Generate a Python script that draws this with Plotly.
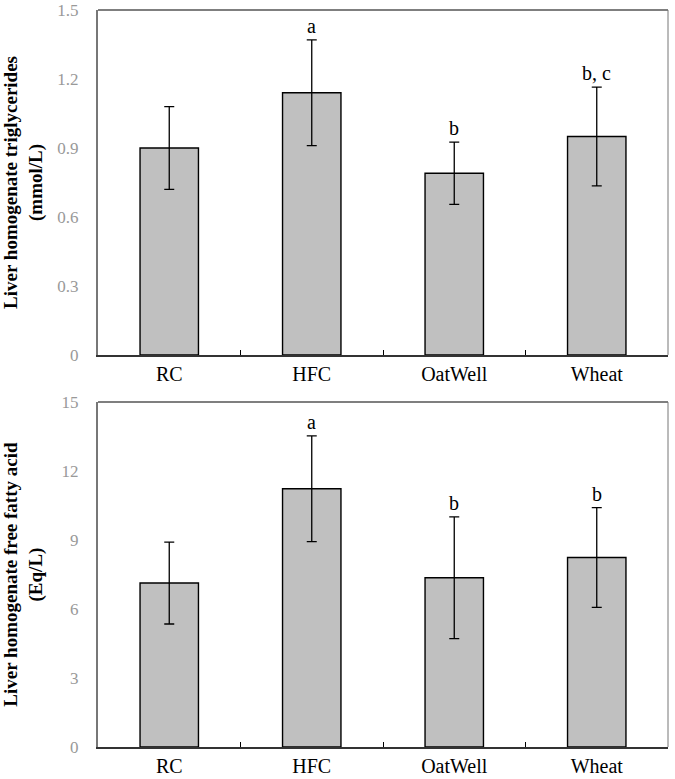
import plotly.graph_objects as go
from plotly.subplots import make_subplots

groups = ["RC", "HFC", "OatWell", "Wheat"]

tg_mean = [0.90, 1.14, 0.79, 0.95]
tg_err = [0.18, 0.23, 0.135, 0.215]
tg_letters = ["", "a", "b", "b, c"]

ffa_mean = [7.13, 11.23, 7.36, 8.24]
ffa_err = [1.78, 2.30, 2.65, 2.17]
ffa_letters = ["", "a", "b", "b"]

serif = "Liberation Serif, Times New Roman, serif"

fig = make_subplots(rows=2, cols=1, vertical_spacing=0.064)

panels = [
    (tg_mean, tg_err, tg_letters, 1),
    (ffa_mean, ffa_err, ffa_letters, 2),
]
for means, errs, letters, row in panels:
    fig.add_trace(go.Bar(
        x=groups, y=means,
        marker=dict(color="#c0c0c0", line=dict(color="black", width=1.4)),
        error_y=dict(type="data", array=errs, visible=True,
                     color="black", thickness=1.3, width=5),
        showlegend=False,
    ), row=row, col=1)
    for g, m, e, lab in zip(groups, means, errs, letters):
        if lab:
            fig.add_annotation(x=g, y=m + e, text=lab, showarrow=False,
                               yanchor="bottom", yshift=1,
                               font=dict(family=serif, size=20, color="black"),
                               row=row, col=1)

fig.update_layout(
    width=675, height=779,
    margin=dict(l=98, r=7, t=10, b=32),
    plot_bgcolor="white", paper_bgcolor="white",
    bargap=0.59,
    font=dict(family=serif, color="black"),
)

fig.update_xaxes(
    tickson="boundaries", ticks="inside", ticklen=5, tickwidth=1.2,
    tickcolor="black", showline=True, linecolor="#333", linewidth=2,
    showgrid=False, automargin=False,
    tickfont=dict(family=serif, size=20, color="black"),
)
fig.update_yaxes(
    showgrid=False, zeroline=False, ticks="", showline=True, automargin=False,
    ticklabelstandoff=14,
    linecolor="#777", linewidth=2, tickfont=dict(family=serif, size=17, color="#999"),
)
fig.update_yaxes(range=[0, 1.5], dtick=0.3, tickformat="~g", row=1, col=1,
                 title=dict(text="<b>Liver homogenate triglycerides<br>(mmol/L)</b>",
                            font=dict(family=serif, size=19, color="black"), standoff=16))
fig.update_yaxes(range=[0, 15], dtick=3, row=2, col=1,
                 title=dict(text="<b>Liver homogenate free fatty acid<br>(Eq/L)</b>",
                            font=dict(family=serif, size=19, color="black"), standoff=16))

# thin top and right frame lines
for xref, yref in [("x domain", "y domain"), ("x2 domain", "y2 domain")]:
    fig.add_shape(type="line", xref=xref, yref=yref, x0=0, x1=1, y0=1, y1=1,
                  line=dict(color="#555", width=1.5))
    fig.add_shape(type="line", xref=xref, yref=yref, x0=1, x1=1, y0=0, y1=1,
                  line=dict(color="#777", width=1))

fig.write_html("out.html", config={"displayModeBar": False},
               post_script="document.body.style.margin='0';")
